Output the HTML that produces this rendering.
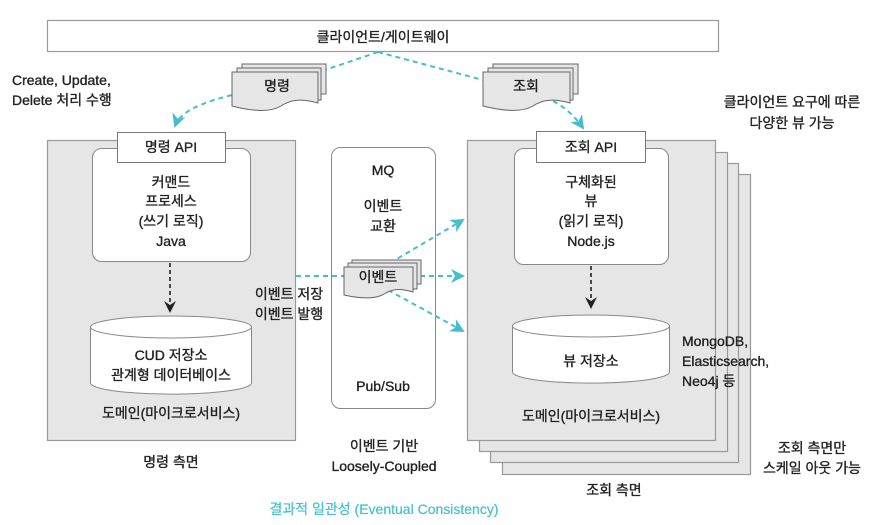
<!DOCTYPE html>
<html><head><meta charset="utf-8"><style>
html,body{margin:0;padding:0;background:#fff;}
svg text{font-family:"Liberation Sans","Noto Sans CJK KR",sans-serif;fill:#222;font-size:14px;stroke:#222;stroke-width:0.35px;}
</style></head><body>
<svg width="895" height="520" viewBox="0 0 895 520" xmlns="http://www.w3.org/2000/svg">
<defs>
<marker id="ta" markerWidth="14" markerHeight="14" refX="12" refY="7" orient="auto" markerUnits="userSpaceOnUse"><path d="M0,0 L14,7 L0,14 L4,7 Z" fill="#45bfcb"/></marker>
</defs>
<!-- top bar -->
<rect x="47.5" y="20.5" width="671" height="31" fill="#fff" stroke="#999" stroke-width="1.2"/>
<text x="383" y="42" text-anchor="middle" font-size="15">클라이언트/게이트웨이</text>

<!-- left panel -->
<rect x="47.5" y="140.5" width="248" height="300" fill="#e6e6e6" stroke="#999" stroke-width="1.2"/>
<rect x="92.5" y="148.5" width="158" height="113" rx="9" fill="#fff" stroke="#888"/>
<rect x="117.5" y="132.5" width="108" height="30" fill="#fff" stroke="#777"/>
<text x="171" y="152" text-anchor="middle">명령 API</text>
<text x="171" y="187" text-anchor="middle">커맨드</text>
<text x="171" y="206" text-anchor="middle">프로세스</text>
<text x="171" y="226" text-anchor="middle">(쓰기 로직)</text>
<text x="171" y="246" text-anchor="middle">Java</text>
<line x1="170" y1="263" x2="170" y2="306" stroke="#222" stroke-width="1.6" stroke-dasharray="4,3"/>
<path d="M164,301 L170,313 L176,301 L170,305 Z" fill="#222"/>
<path d="M90.5,327 L90.5,383 A80,11 0 0 0 251.5,383 L251.5,327" fill="#fff" stroke="#888"/>
<ellipse cx="171" cy="327" rx="80.5" ry="11" fill="#fff" stroke="#888"/>
<text x="171" y="360" text-anchor="middle">CUD 저장소</text>
<text x="171" y="380" text-anchor="middle">관계형 데이터베이스</text>
<text x="171" y="418" text-anchor="middle" font-size="16">도메인(마이크로서비스)</text>
<text x="171" y="467" text-anchor="middle">명령 측면</text>

<!-- MQ -->
<rect x="331.5" y="147.5" width="104" height="261" rx="9" fill="#fff" stroke="#888"/>
<text x="383" y="175" text-anchor="middle">MQ</text>
<text x="383" y="211" text-anchor="middle">이벤트</text>
<text x="383" y="231" text-anchor="middle">교환</text>
<text x="383" y="391" text-anchor="middle">Pub/Sub</text>

<!-- right stack -->
<rect x="502.5" y="174.5" width="248" height="300" fill="#e6e6e6" stroke="#999" stroke-width="1.2"/>
<rect x="490.5" y="163.5" width="248" height="299" fill="#e6e6e6" stroke="#999" stroke-width="1.2"/>
<rect x="479.5" y="152.5" width="248" height="299" fill="#e6e6e6" stroke="#999" stroke-width="1.2"/>
<rect x="467.5" y="140.5" width="248" height="300" fill="#e6e6e6" stroke="#999" stroke-width="1.2"/>
<rect x="514.5" y="148.5" width="154" height="116" rx="9" fill="#fff" stroke="#888"/>
<rect x="536.5" y="131.5" width="109" height="31" fill="#fff" stroke="#777"/>
<text x="591" y="152" text-anchor="middle">조회 API</text>
<text x="591" y="187" text-anchor="middle">구체화된</text>
<text x="591" y="206" text-anchor="middle">뷰</text>
<text x="591" y="226" text-anchor="middle">(읽기 로직)</text>
<text x="591" y="246" text-anchor="middle">Node.js</text>
<line x1="591" y1="266" x2="591" y2="302" stroke="#222" stroke-width="1.6" stroke-dasharray="4,3"/>
<path d="M585,297 L591,309 L597,297 L591,301 Z" fill="#222"/>
<path d="M512.5,326 L512.5,372 A78,11 0 0 0 669.5,372 L669.5,326" fill="#fff" stroke="#888"/>
<ellipse cx="591" cy="326" rx="78.5" ry="11" fill="#fff" stroke="#888"/>
<text x="591" y="366" text-anchor="middle">뷰 저장소</text>
<text x="591" y="421" text-anchor="middle" font-size="16">도메인(마이크로서비스)</text>
<text x="682" y="346">MongoDB,</text>
<text x="682" y="366">Elasticsearch,</text>
<text x="682" y="386">Neo4j 등</text>
<text x="614" y="495" text-anchor="middle">조회 측면</text>

<!-- side texts -->
<text x="12" y="85">Create, Update,</text>
<text x="12" y="105">Delete 처리 수행</text>
<text x="792" y="107" text-anchor="middle">클라이언트 요구에 따른</text>
<text x="792" y="128" text-anchor="middle">다양한 뷰 가능</text>
<text x="289" y="299" text-anchor="middle">이벤트 저장</text>
<text x="289" y="319" text-anchor="middle">이벤트 발행</text>
<text x="384" y="451" text-anchor="middle">이벤트 기반</text>
<text x="384" y="471" text-anchor="middle">Loosely-Coupled</text>
<text x="812" y="453" text-anchor="middle">조회 측면만</text>
<text x="812" y="473" text-anchor="middle">스케일 아웃 가능</text>
<text x="384" y="514" text-anchor="middle" font-size="17" style="fill:#45bfcb;stroke:#45bfcb;stroke-width:0.2px">결과적 일관성 (Eventual Consistency)</text>

<!-- teal connectors -->
<g fill="none" stroke="#45bfcb" stroke-width="2" stroke-dasharray="5,4">
<path d="M378,52 L325,70"/>
<path d="M232,95 C200,103 180,112 175,126" marker-end="url(#ta)"/>
<path d="M378,52 L483,80"/>
<path d="M545,97 C560,104 572,112 583,128" marker-end="url(#ta)"/>
<line x1="296" y1="276" x2="344" y2="276"/>
<path d="M390,263 L463,220" marker-end="url(#ta)"/>
<path d="M420,276 L463,276" marker-end="url(#ta)"/>
<path d="M388,290 L463,331" marker-end="url(#ta)"/>
</g>

<!-- docs -->
<g stroke="#666" stroke-width="1">
<rect x="242" y="64" width="84" height="30" fill="#e6e6e6"/>
<rect x="237" y="68" width="84" height="32" fill="#e6e6e6"/>
<path d="M232,72 H318 V103 C300,98 290,100 281,106 C271,112 255,112 232,106 Z" fill="#e6e6e6"/>
<rect x="493" y="64" width="85" height="30" fill="#e6e6e6"/>
<rect x="488" y="68" width="85" height="32" fill="#e6e6e6"/>
<path d="M483,72 H570 V103 C552,98 542,100 533,106 C523,112 507,112 483,106 Z" fill="#e6e6e6"/>
<rect x="352" y="260" width="69" height="24" fill="#e6e6e6"/>
<rect x="348" y="263" width="69" height="26" fill="#e6e6e6"/>
<path d="M344,267 H413 V292 C399,288 392,289 384,294 C376,299 362,299 344,295 Z" fill="#e6e6e6"/>
</g>
<text x="277" y="91" text-anchor="middle">명령</text>
<text x="526" y="91" text-anchor="middle">조회</text>
<text x="378" y="282" text-anchor="middle">이벤트</text>
</svg>
</body></html>
